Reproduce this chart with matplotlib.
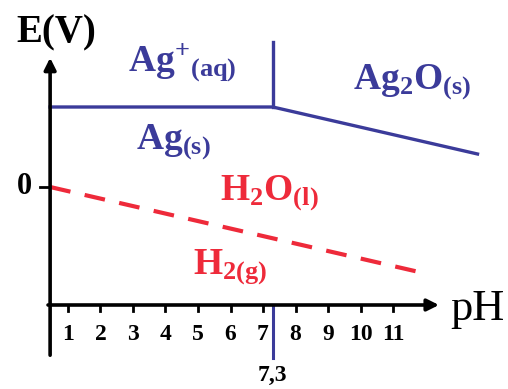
import matplotlib
matplotlib.use("Agg")
import matplotlib.pyplot as plt

# Pourbaix-type diagram for silver (E vs pH)
ph_ticks = [1, 2, 3, 4, 5, 6, 7, 8, 9, 10, 11]
ph_axis = [0.45, 12.5]            # pH span of the drawn x axis
e_axis = [-1.71, 1.32]            # E span of the drawn y axis
e_origin_axis = -1.18             # level of the pH axis

ph_ag = [0.45, 7.3, 13.6]         # Ag+/Ag then Ag2O/Ag boundary
e_ag = [0.80, 0.80, 0.33]
ph_vert = 7.3                     # Ag+/Ag2O boundary
e_vert = [0.80, 1.45]
ph_water = [0.45, 11.8]           # H2O/H2 line
e_water = [0.0, -0.85]

BLUE = "#3b3b9a"
RED = "#ee2a3a"

plt.rcParams["mathtext.fontset"] = "custom"
plt.rcParams["mathtext.rm"] = "Liberation Serif:bold"
plt.rcParams["mathtext.it"] = "Liberation Serif:bold"
plt.rcParams["mathtext.bf"] = "Liberation Serif:bold"
FONT = dict(family="Liberation Serif", weight="bold")

fig = plt.figure(figsize=(5.08, 3.89), dpi=100)
ax = fig.add_axes([0, 0, 1, 1])
ax.set_xlim(-1.092, 14.538)
ax.set_ylim(-2.02, 1.87)
ax.axis("off")

# axes with arrows
ax.annotate("", xy=(ph_axis[0], e_axis[1]), xytext=(ph_axis[0], e_axis[0]),
            arrowprops=dict(arrowstyle="-|>,head_length=0.7,head_width=0.35",
                            lw=2.6, color="black"))
ax.annotate("", xy=(ph_axis[1], e_origin_axis), xytext=(ph_axis[0] - 0.15, e_origin_axis),
            arrowprops=dict(arrowstyle="-|>,head_length=0.7,head_width=0.35",
                            lw=2.6, color="black"))

for p in ph_ticks:
    ax.plot([p, p], [e_origin_axis, e_origin_axis - 0.06], color="black", lw=2)
    ax.text(p, e_origin_axis - 0.29, str(p), ha="center", va="center",
            fontsize=17, **FONT)
ax.plot([ph_axis[0] - 0.3, ph_axis[0]], [0, 0], color="black", lw=2)
ax.text(ph_axis[0] - 0.8, 0.0, "0", ha="center", va="center", fontsize=22, **FONT)

ax.text(0.65, 1.54, "E(V)", ha="center", va="center", fontsize=28, **FONT)
ax.text(13.6, -1.22, "pH", ha="center", va="center", fontsize=32,
        family="Liberation Serif")

# boundaries
ax.plot(ph_ag, e_ag, color=BLUE, lw=2.4, solid_joinstyle="miter")
ax.plot([ph_vert, ph_vert], e_vert, color=BLUE, lw=2.4)
ax.plot([ph_vert, ph_vert], [e_origin_axis, e_axis[0]], color=BLUE, lw=2.2)
ax.text(ph_vert, -1.88, "7,3", ha="center", va="center", fontsize=17, **FONT)
ax.plot(ph_water, e_water, color=RED, lw=3, ls=(0, (5, 3.5)))

# species labels
ax.text(4.5, 1.25, r"$\mathrm{Ag^{+}{}_{(aq)}}$", color=BLUE, ha="center",
        va="center", fontsize=27)
ax.text(4.25, 0.45, r"$\mathrm{Ag_{(s)}}$", color=BLUE, ha="center",
        va="center", fontsize=27)
ax.text(11.6, 1.05, r"$\mathrm{Ag_{2}O_{(s)}}$", color=BLUE, ha="center",
        va="center", fontsize=27)
ax.text(7.2, -0.06, r"$\mathrm{H_{2}O_{(l)}}$", color=RED, ha="center",
        va="center", fontsize=27)
ax.text(6.0, -0.8, r"$\mathrm{H_{2(g)}}$", color=RED, ha="center",
        va="center", fontsize=27)

fig.savefig("out.png", dpi=100)
